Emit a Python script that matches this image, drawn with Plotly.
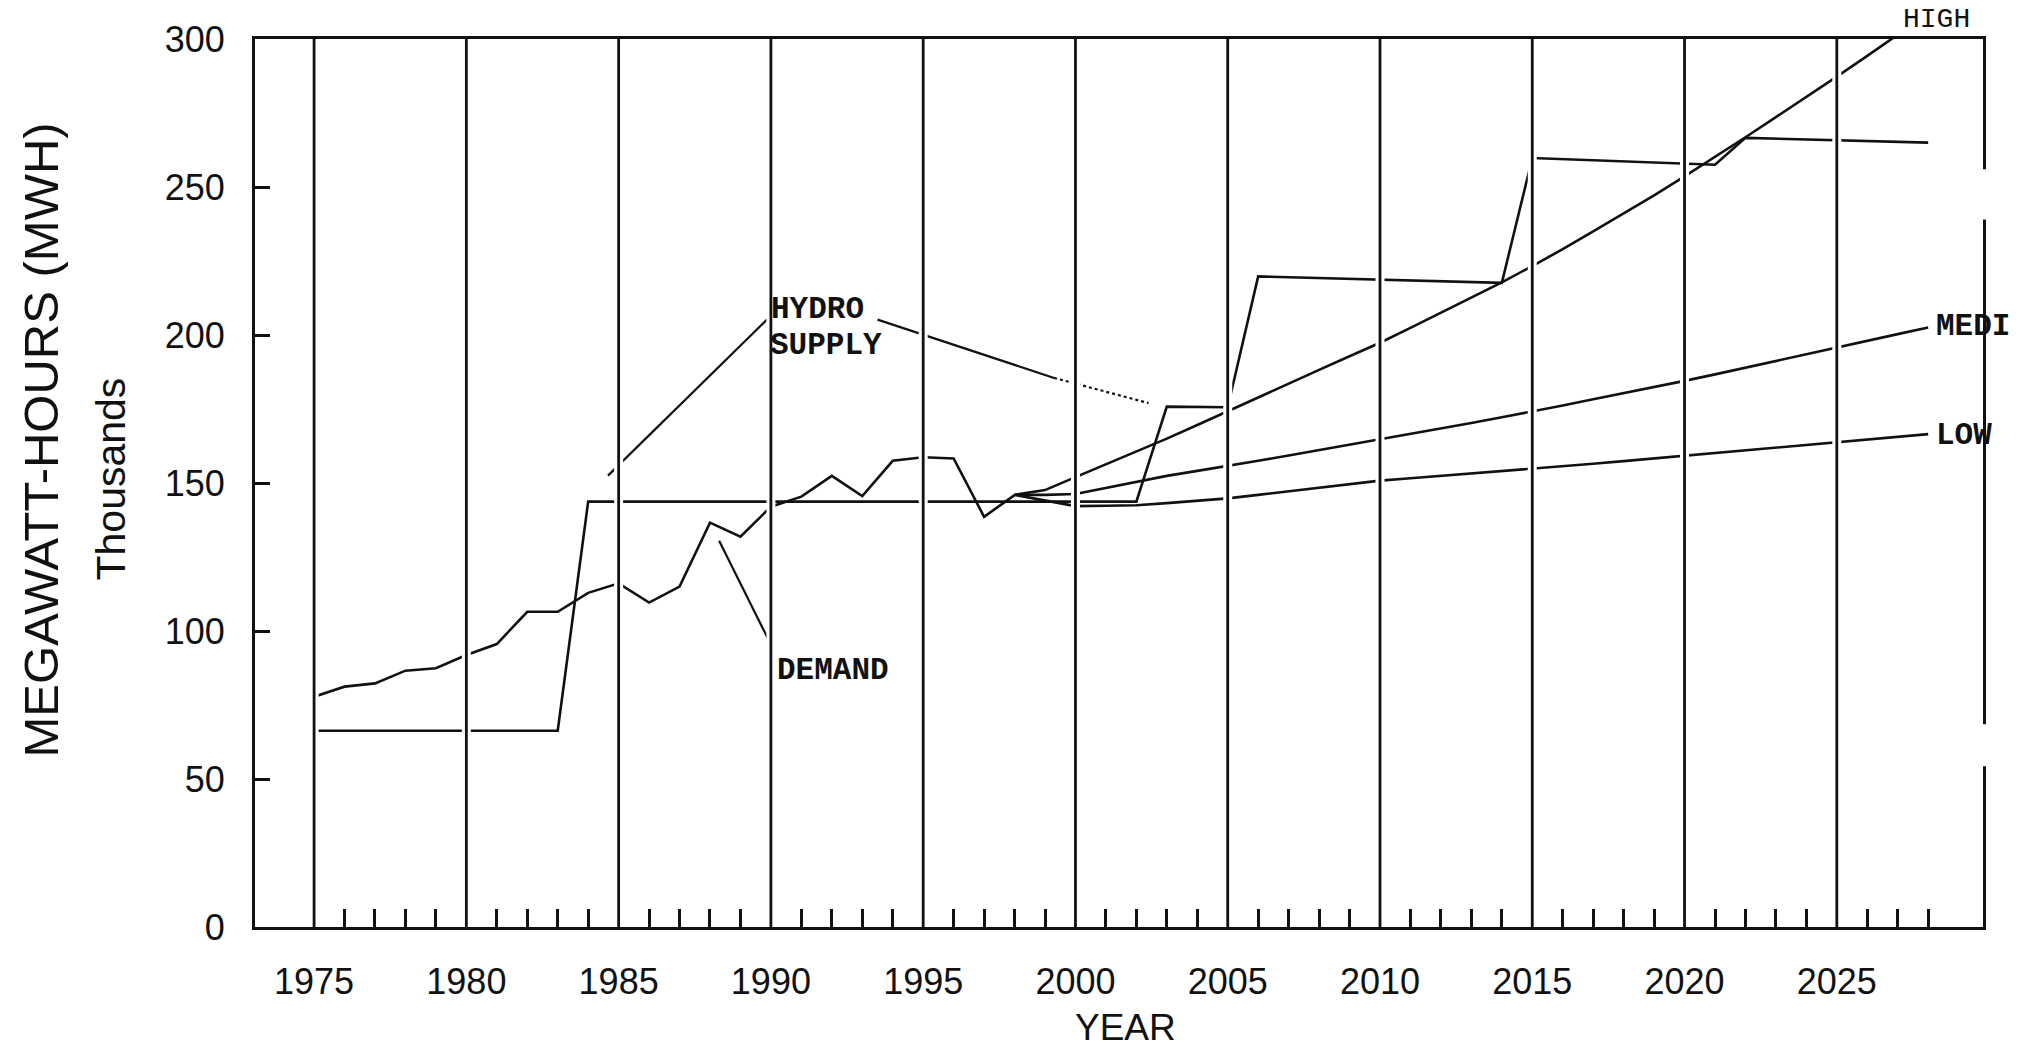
import plotly.graph_objects as go

# ---------------- data ----------------
hist_years = list(range(1975, 1999))
demand = [77.8, 81.2, 82.3, 86.6, 87.4, 91.9, 95.6, 106.5, 106.5, 112.9,
          116.1, 109.6, 115.0, 136.6, 131.9, 142.0, 145.4, 152.4, 145.6, 157.5,
          158.7, 158.3, 138.6, 145.9]

supply_years = list(range(1975, 2029))
hydro_supply = [66.3, 66.3, 66.3, 66.3, 66.3, 66.3, 66.3, 66.3, 66.3,
                143.7, 143.7, 143.7, 143.7, 143.7, 143.7, 143.7, 143.7, 143.7, 143.7,
                143.7, 143.7, 143.7, 143.7, 143.7, 143.7, 143.7, 143.7, 143.7,
                175.8, 175.7, 175.6,
                219.8, 219.5, 219.3, 219.0, 218.8, 218.5, 218.2, 217.9, 217.6,
                259.8, 259.4, 259.0, 258.6, 258.2, 257.9, 257.5,
                266.6, 266.3, 266.0, 265.7, 265.5, 265.2, 265.0]

fc_years = list(range(1998, 2029))
high = [146.0, 147.6, 152.0, 156.3, 160.5, 165.0, 169.6, 174.3, 179.0, 183.6,
        188.2, 192.8, 197.4, 202.4, 207.5, 212.5, 217.8, 223.3, 229.0, 235.0,
        241.0, 247.2, 253.6, 260.1, 266.8, 273.6, 280.4, 287.3, 294.3, 301.4, 308.6]
medium = [146.0, 146.0, 146.3, 148.4, 150.5, 152.4, 154.1, 155.7, 157.5, 159.3,
          161.1, 163.0, 164.8, 166.6, 168.5, 170.3, 172.2, 174.1, 176.2, 178.3,
          180.3, 182.4, 184.5, 186.7, 189.0, 191.2, 193.5, 195.7, 198.0, 200.3, 202.5]
low = [146.0, 144.0, 142.2, 142.3, 142.5, 143.2, 144.0, 144.8, 146.0, 147.2,
       148.4, 149.6, 150.8, 151.6, 152.4, 153.1, 153.9, 154.7, 155.6, 156.5,
       157.4, 158.3, 159.2, 160.1, 161.0, 161.9, 162.8, 163.7, 164.6, 165.6, 166.5]

major_years = [1975, 1980, 1985, 1990, 1995, 2000, 2005, 2010, 2015, 2020, 2025]
major_labels = ["1975", "1980", "1985", "1990", "1995", "2000", "2005", "2010",
                "2015", "2020", "2025"]
minor_years = [y for y in range(1976, 2029) if y % 5 != 0]
y_ticks = [0, 50, 100, 150, 200, 250, 300]

# labels drawn inside the chart (text, x, y, anchor)
series_labels = [
    ("HYDRO", 1989.95, 208.6, "left"),
    ("SUPPLY", 1989.9, 196.3, "left"),
    ("DEMAND", 1990.15, 86.5, "left"),
    ("MEDI", 2028.2, 202.8, "left"),
    ("LOW", 2028.2, 165.9, "left"),
]
# label sitting above the frame (text, x, paper-y)
top_labels = [("HIGH", 2028.27, 1.0225)]
# leader lines for the labels: (x0, y0, x1, y1, dash)
leaders = [
    (1990.0, 206.5, 1984.65, 152.5, "solid"),
    (1993.5, 205.2, 1999.3, 185.5, "solid"),
    (1999.3, 185.5, 2002.4, 177.0, "dot"),
    (1989.9, 97.5, 1988.3, 130.5, "solid"),
]
# breaks in the right-hand frame line of the scanned original (value ranges)
frame_breaks = [(239.0, 256.0), (54.3, 68.5)]

INK = "#111111"
LW = 2.6
SANS = "Liberation Sans, Arial, sans-serif"
MONO = "Liberation Mono, Courier New, monospace"

fig = go.Figure()

def add_line(x, y):
    fig.add_trace(go.Scatter(x=x, y=y, mode="lines",
                             line=dict(color=INK, width=LW),
                             hoverinfo="skip", showlegend=False))

add_line(supply_years, hydro_supply)
add_line(hist_years, demand)
add_line(fc_years, high)
add_line(fc_years, medium)
add_line(fc_years, low)

shapes = []
for x0, y0, x1, y1, dash in leaders:
    shapes.append(dict(type="line", xref="x", yref="y", x0=x0, y0=y0, x1=x1, y1=y1,
                       line=dict(color=INK, width=2.2, dash=dash), layer="above"))
# vertical grid lines with a white halo that breaks the curves
for yr in major_years:
    shapes.append(dict(type="line", xref="x", yref="y", x0=yr, x1=yr, y0=0, y1=300,
                       line=dict(color="white", width=9), layer="above"))
for yr in major_years:
    shapes.append(dict(type="line", xref="x", yref="y", x0=yr, x1=yr, y0=0, y1=300,
                       line=dict(color=INK, width=2.8), layer="above"))
for b0, b1 in frame_breaks:
    shapes.append(dict(type="line", xref="paper", yref="y", x0=1.0, x1=1.0,
                       y0=b0, y1=b1, line=dict(color="white", width=12),
                       layer="above"))

annotations = []
for text, x, y, anchor in series_labels:
    annotations.append(dict(text=text, x=x, y=y, xref="x", yref="y",
                            xanchor=anchor, yanchor="middle", showarrow=False,
                            font=dict(family=MONO, size=31, color=INK, weight="bold")))
for text, x, y in top_labels:
    annotations.append(dict(text=text, x=x, y=y, xref="x", yref="paper",
                            xanchor="center", yanchor="middle", showarrow=False,
                            font=dict(family=MONO, size=28, color=INK)))
annotations += [
    dict(text="MEGAWATT-HOURS (MWH)", x=-0.1238, y=0.548, xref="paper", yref="paper",
         textangle=-90, xanchor="center", yanchor="middle", showarrow=False,
         font=dict(family=SANS, size=49, color=INK)),
    dict(text="Thousands", x=-0.0833, y=0.504, xref="paper", yref="paper",
         textangle=-90, xanchor="center", yanchor="middle", showarrow=False,
         font=dict(family=SANS, size=41, color=INK)),
    dict(text="YEAR", x=0.504, y=-0.1135, xref="paper", yref="paper",
         xanchor="center", yanchor="middle", showarrow=False,
         font=dict(family=SANS, size=37, color=INK)),
]

fig.update_layout(
    width=2018, height=1051,
    margin=dict(l=255, r=35, t=39, b=124, pad=0),
    plot_bgcolor="white", paper_bgcolor="white",
    showlegend=False,
    shapes=shapes,
    annotations=annotations,
    xaxis=dict(
        range=[1973.06, 2029.8],
        tickmode="array", tickvals=major_years, ticktext=major_labels,
        ticks="", showgrid=False, zeroline=False,
        showline=True, mirror=True, linecolor=INK, linewidth=3,
        tickfont=dict(family=SANS, size=36, color=INK),
        ticklabelstandoff=21,
        minor=dict(tickmode="array", tickvals=minor_years, ticks="inside",
                   ticklen=18, tickwidth=2.5, tickcolor=INK, showgrid=False),
    ),
    yaxis=dict(
        range=[0, 300],
        tickmode="array", tickvals=y_ticks,
        ticks="inside", ticklen=15, tickwidth=2.5, tickcolor=INK,
        showgrid=False, zeroline=False,
        showline=True, mirror=True, linecolor=INK, linewidth=3,
        tickfont=dict(family=SANS, size=36, color=INK),
        ticklabelstandoff=20,
    ),
)

# remove the page's default body margin so the 2018x1051 figure fills the window
fig.write_html("out.html", config={"displayModeBar": False},
               post_script="document.body.style.margin='0px';")
